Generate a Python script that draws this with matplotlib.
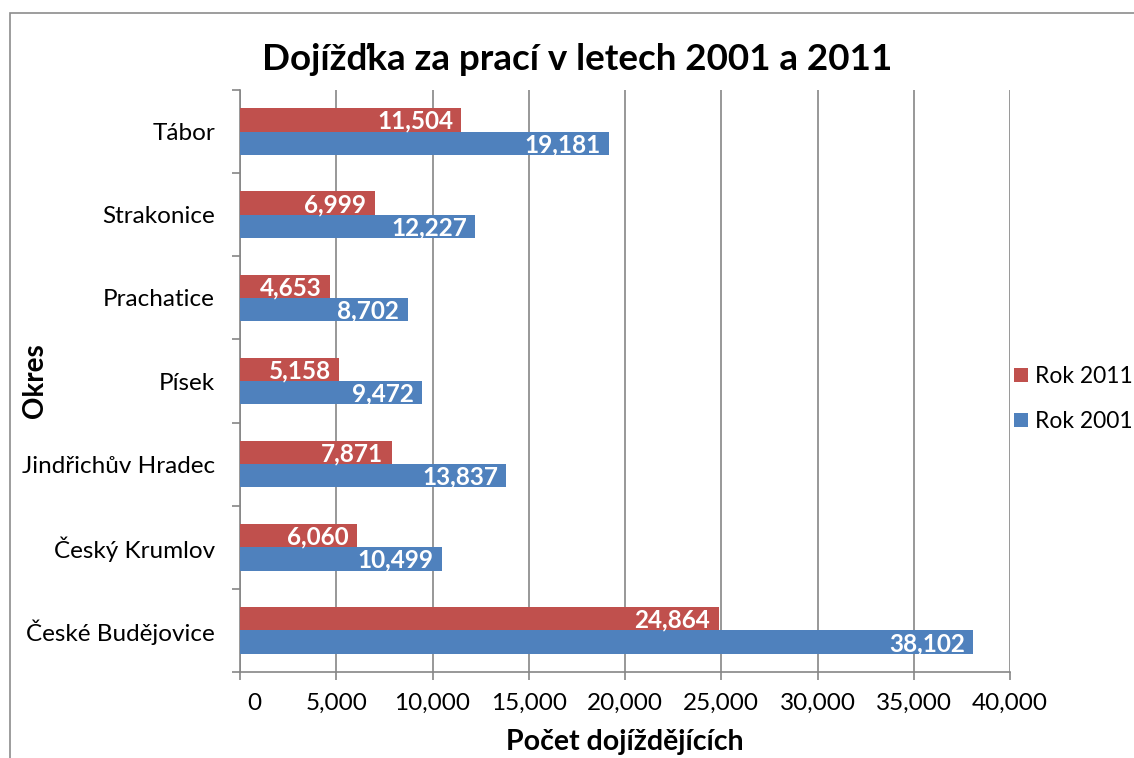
import matplotlib
matplotlib.use("Agg")
import matplotlib.pyplot as plt
from matplotlib.patches import Rectangle
import matplotlib.transforms as mtransforms
import numpy as np

okresy = ["České Budějovice", "Český Krumlov", "Jindřichův Hradec", "Písek",
          "Prachatice", "Strakonice", "Tábor"]
rok_2011 = [24864, 6060, 7871, 5158, 4653, 6999, 11504]
rok_2001 = [38102, 10499, 13837, 9472, 8702, 12227, 19181]
x_ticks = [0, 5000, 10000, 15000, 20000, 25000, 30000, 35000, 40000]

RED = "#C0504D"
BLUE = "#4F81BD"
GRID = "#868686"
FONT = ["Lato", "DejaVu Sans"]
plt.rcParams['font.family'] = FONT

fig = plt.figure(figsize=(11.34, 7.58), dpi=100)
# figure border (cropped at right/bottom in reference)
fig.patches.append(Rectangle((10 / 1134, -0.05), 1.2, (758 - 13) / 758 + 0.05,
                             transform=fig.transFigure, fill=False,
                             edgecolor="#8c8c8c", linewidth=1.2))

ax = fig.add_axes([240 / 1134, 1 - 672 / 758, 770 / 1134, (672 - 90) / 758])

y = np.arange(len(okresy))
h = 0.28
b1 = ax.barh(y + h / 2, rok_2011, height=h, color=RED, label="Rok 2011", zorder=3)
b2 = ax.barh(y - h / 2, rok_2001, height=h, color=BLUE, label="Rok 2001", zorder=3)

for bars, vals in ((b1, rok_2011), (b2, rok_2001)):
    for bar, v in zip(bars, vals):
        ax.annotate(f"{v:,}", xy=(v, bar.get_y() + bar.get_height() / 2),
                    xytext=(-6, -1), textcoords="offset points",
                    ha="right", va="center", color="white",
                    fontsize=17.5, fontweight="bold", zorder=4)

ax.set_xlim(0, 40000)
ax.set_ylim(-0.5, len(okresy) - 0.5)
ax.set_xticks(x_ticks)
ax.set_xticklabels([f"{t:,}" for t in x_ticks], fontsize=17.5)
ax.set_yticks(np.arange(len(okresy) + 1) - 0.5, minor=False)
ax.set_yticklabels([])
ax.set_yticks(y, minor=True)
ax.set_yticklabels(okresy, minor=True, fontsize=17.5)
ax.tick_params(axis="y", which="minor", length=0, pad=18)
ax.tick_params(axis="y", which="major", length=6, color=GRID, width=1.2)
ax.tick_params(axis="x", length=6, color=GRID, width=1.2, pad=9)

# first x tick label is shifted right in the reference
first = ax.get_xticklabels()[0]
first.set_transform(first.get_transform() +
                    mtransforms.ScaledTranslation(14 / 100, 0, fig.dpi_scale_trans))

ax.grid(axis="x", color=GRID, linewidth=1.2, zorder=0)
for s in ("top", "right"):
    ax.spines[s].set_visible(False)
for s in ("left", "bottom"):
    ax.spines[s].set_color(GRID)
    ax.spines[s].set_linewidth(1.2)

ax.set_xlabel("Počet dojíždějících", fontsize=20.5, fontweight="bold")
ax.xaxis.set_label_coords((625 - 240) / 770, -(742 - 672) / 582)
ax.xaxis.label.set_va("center")
ax.set_ylabel("Okres", fontsize=20, fontweight="bold")
ax.yaxis.set_label_coords(-(240 - 35) / 770, 0.5)
ax.yaxis.label.set_va("center")

fig.text(577 / 1134, 1 - 60 / 758, "Dojížďka za prací v letech 2001 a 2011",
         ha="center", va="center", fontsize=26.5, fontweight="bold")

ax.legend(handles=[b1, b2], loc="center left", bbox_to_anchor=(1014 / 1134, 1 - 399 / 758),
          bbox_transform=fig.transFigure, frameon=False, fontsize=16.5,
          handlelength=0.6, handleheight=0.6, handletextpad=0.3, labelspacing=1.05,
          borderpad=0, borderaxespad=0)

fig.savefig("out.png", dpi=100)
